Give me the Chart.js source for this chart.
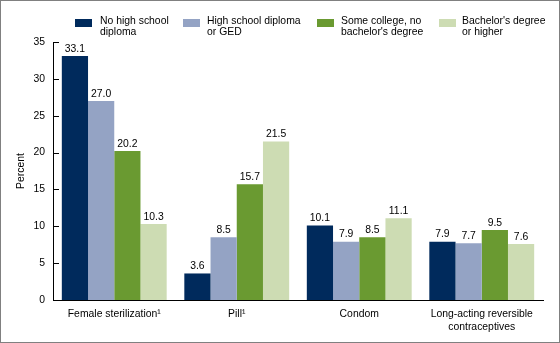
<!DOCTYPE html>
<html><head><meta charset="utf-8">
<script src="https://cdn.jsdelivr.net/npm/chart.js@4"></script>
<style>
html,body{margin:0;padding:0;background:#fff;}
#wrap{position:relative;width:560px;height:343px;overflow:hidden;font-family:"Liberation Sans",Arial,sans-serif;}
#frame{position:absolute;left:0;top:0;width:560px;height:343px;box-sizing:border-box;border:1px solid #808080;pointer-events:none;}
canvas{position:absolute;left:0;top:0;}
.li{position:absolute;top:15px;font-size:10.4px;line-height:11px;color:#000;}
.sw{position:absolute;top:4px;width:17px;height:8px;}
.tx{position:absolute;top:0;white-space:nowrap;}
</style></head>
<body>
<div id="wrap">
<canvas id="c" width="560" height="343"></canvas>
<div id="legend"></div>
<div id="frame"></div>
</div>
<script>
const categories = [["Female sterilization\u00B9"], ["Pill\u00B9"], ["Condom"], ["Long-acting reversible", "contraceptives"]];
const seriesNames = [["No high school", "diploma"], ["High school diploma", "or GED"], ["Some college, no", "bachelor's degree"], ["Bachelor's degree", "or higher"]];
const noHighSchool = [33.1, 3.6, 10.1, 7.9];
const highSchool = [27.0, 8.5, 7.9, 7.7];
const someCollege = [20.2, 15.7, 8.5, 9.5];
const bachelors = [10.3, 21.5, 11.1, 7.6];
const yTicks = [0, 5, 10, 15, 20, 25, 30, 35];
const colors = ["#002a5c", "#94a3c4", "#6a9a31", "#cddcb3"];

const FONT = '"Liberation Sans", Arial, sans-serif';
const FS = 10.4;

// HTML legend
const legendPos = [[75, 100], [183, 207], [317, 341], [439, 462]];
const leg = document.getElementById('legend');
seriesNames.forEach((n, i) => {
  const d = document.createElement('div');
  d.className = 'li';
  d.style.left = '0px';
  d.innerHTML = '<div class="sw" style="left:' + legendPos[i][0] + 'px;background:' + colors[i] + '"></div>' +
    '<div class="tx" style="left:' + legendPos[i][1] + 'px">' + n[0] + '<br>' + n[1] + '</div>';
  leg.appendChild(d);
});

const valueLabels = {
  id: 'valueLabels',
  afterDatasetsDraw(chart) {
    const ctx = chart.ctx;
    ctx.save();
    ctx.font = FS + 'px ' + FONT;
    ctx.fillStyle = '#000';
    ctx.textAlign = 'center';
    ctx.textBaseline = 'bottom';
    chart.data.datasets.forEach((ds, i) => {
      chart.getDatasetMeta(i).data.forEach((bar, j) => {
        ctx.fillText(ds.data[j].toFixed(1), bar.x, bar.y - 2);
      });
    });
    // inward y ticks
    const y = chart.scales.y;
    ctx.strokeStyle = '#000';
    ctx.lineWidth = 1;
    yTicks.forEach(v => {
      const py = Math.round(y.getPixelForValue(v)) + 0.5;
      ctx.beginPath();
      ctx.moveTo(y.right, py);
      ctx.lineTo(y.right + 6, py);
      ctx.stroke();
    });
    ctx.restore();
  }
};

new Chart(document.getElementById('c'), {
  type: 'bar',
  data: {
    labels: categories,
    datasets: [noHighSchool, highSchool, someCollege, bachelors].map((d, i) => ({
      label: seriesNames[i].join(' '),
      data: d,
      backgroundColor: colors[i],
      borderWidth: 0,
      categoryPercentage: 0.856,
      barPercentage: 1.0
    }))
  },
  options: {
    responsive: false,
    animation: false,
    events: [],
    layout: { padding: { top: 42, right: 17, left: 0, bottom: 0 } },
    plugins: { legend: { display: false }, tooltip: { enabled: false } },
    scales: {
      x: {
        grid: { display: false, drawTicks: false },
        border: { display: true, color: '#000', width: 1 },
        ticks: { color: '#000', font: { size: FS, family: FONT }, padding: 8, maxRotation: 0, autoSkip: false },
        afterFit(s) { s.height = 43; }
      },
      y: {
        min: 0, max: 35,
        afterBuildTicks(s) { s.ticks = yTicks.map(v => ({ value: v })); },
        grid: { display: false, drawTicks: false },
        border: { display: true, color: '#000', width: 1 },
        ticks: { color: '#000', font: { size: FS, family: FONT }, padding: 8 },
        title: { display: true, text: 'Percent', color: '#000', font: { size: FS, family: FONT }, padding: { top: 15, bottom: 0 } },
        afterFit(s) { s.width = 53; }
      }
    }
  },
  plugins: [valueLabels]
});
</script>
</body></html>
